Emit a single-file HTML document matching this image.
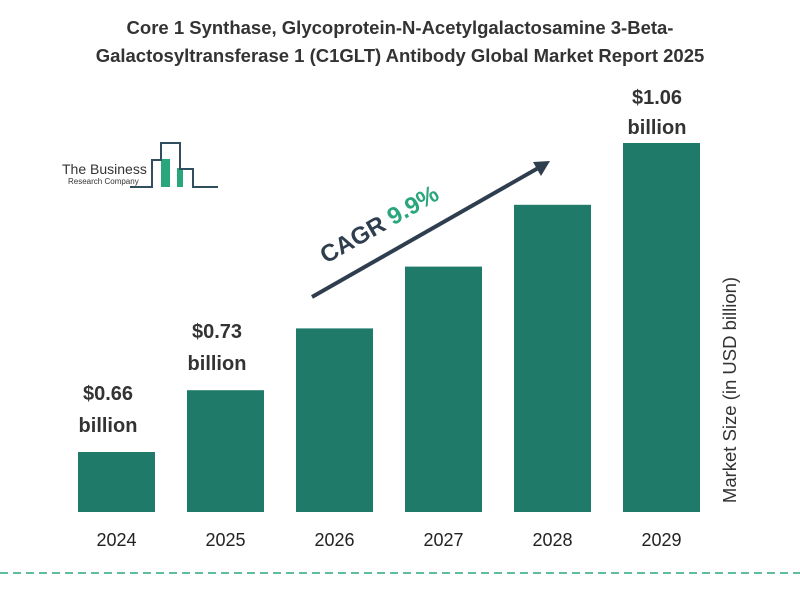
<!DOCTYPE html>
<html><head><meta charset="utf-8"><style>
body{margin:0;background:#fff;font-family:"Liberation Sans",sans-serif}
svg{display:block}
</style></head><body>
<svg width="800" height="600">
<text x="400" y="34" text-anchor="middle" font-size="18.5" font-weight="bold" fill="#333">Core 1 Synthase, Glycoprotein-N-Acetylgalactosamine 3-Beta-</text>
<text x="400" y="62" text-anchor="middle" font-size="18.5" font-weight="bold" fill="#333">Galactosyltransferase 1 (C1GLT) Antibody Global Market Report 2025</text>
<g>
<rect x="161" y="159" width="9" height="28" fill="#2aa67c"/>
<rect x="177" y="168" width="6" height="19" fill="#2aa67c"/>
<polyline points="130,187 152,187 152,160 161,160 161,143 180,143 180,169 193,169 193,187 218,187" fill="none" stroke="#2f4f5f" stroke-width="2"/>
<text x="62" y="174" font-size="14" fill="#333">The Business</text>
<text x="68" y="184" font-size="8" fill="#333">Research Company</text>
</g>
<g id="bars"></g>
<g>
<line x1="312" y1="297" x2="540" y2="167" stroke="#2f3e4e" stroke-width="4"/>
<polygon points="550,161 533,162 541,176" fill="#2f3e4e"/>
<text transform="translate(326,264) rotate(-29.7)" font-size="24" font-weight="bold" fill="#2f3e4e">CAGR <tspan fill="#2aa67c">9.9%</tspan></text>
</g>
<text transform="translate(736,390) rotate(-90)" text-anchor="middle" font-size="18.5" fill="#333">Market Size (in USD billion)</text>
<line x1="0" y1="573" x2="800" y2="573" stroke="#2aa67c" stroke-width="1.5" stroke-dasharray="8,5"/>
</svg>
<script>
const categories=["2024","2025","2026","2027","2028","2029"];
const values=[0.66,0.74,0.82,0.90,0.98,1.06];
const labels=["$0.66","$0.73","","","","$1.06"];
const g=document.getElementById('bars');
const NS="http://www.w3.org/2000/svg";
const base=512;
function y(v){return base-(60+(v-0.66)*772.5);}
function x(i){return 78+i*109;}
categories.forEach((c,i)=>{
 const r=document.createElementNS(NS,'rect');
 r.setAttribute('x',x(i));r.setAttribute('y',y(values[i]));r.setAttribute('width',77);r.setAttribute('height',base-y(values[i]));r.setAttribute('fill','#1f7a6a');
 
 
 g.appendChild(r);
 const t=document.createElementNS(NS,'text');
 t.setAttribute('x',x(i)+38.5);t.setAttribute('y',546);t.setAttribute('text-anchor','middle');t.setAttribute('font-size','18');t.setAttribute('fill','#222');t.textContent=c;
 
 
 g.appendChild(t);
 if(labels[i]){
  const l=document.createElementNS(NS,'text');
  const lx=x(i)+(i==5?34:30);
  l.setAttribute('text-anchor','middle');l.setAttribute('font-size','20');l.setAttribute('font-weight','bold');l.setAttribute('fill','#333');
  const top=y(values[i]);
  const o1=i==5?-39:-52, o2=i==5?-9:-20;
  l.innerHTML='<tspan x="'+lx+'" y="'+(top+o1)+'">'+labels[i]+'</tspan><tspan x="'+lx+'" y="'+(top+o2)+'">billion</tspan>';
  
  
  g.appendChild(l);
 }
});
</script>
</body></html>
